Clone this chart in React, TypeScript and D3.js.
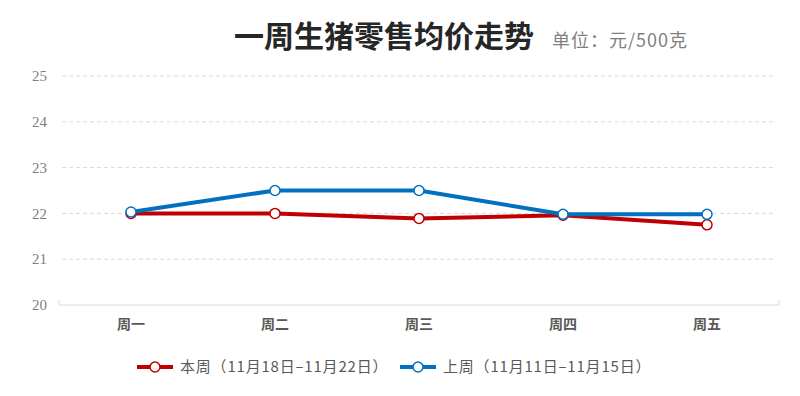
import React from "react";
import * as d3 from "d3";

const days = ["周一", "周二", "周三", "周四", "周五"];
const thisWeek = [22.0, 22.0, 21.89, 21.96, 21.75];
const lastWeek = [22.03, 22.5, 22.5, 21.98, 21.98];
const yTicks = [20, 21, 22, 23, 24, 25];
const seriesNames = ["本周（11月18日–11月22日）", "上周（11月11日–11月15日）"];
const seriesColors = ["#c00000", "#0070c0"];

const W = 800;
const H = 396;

const App: React.FC = () => {
  const svgRef = React.useRef<SVGSVGElement | null>(null);

  React.useEffect(() => {
    if (!svgRef.current) return;
    const svg = d3.select(svgRef.current);
    svg.selectAll("*").remove();

    const margin = { top: 76, right: 21, bottom: 91, left: 59 };
    const innerW = W - margin.left - margin.right;
    const innerH = H - margin.top - margin.bottom;

    svg.append("rect").attr("x", 1.5).attr("y", 1.5).attr("width", W - 3).attr("height", H - 3)
      .attr("fill", "#fff").attr("stroke", "#d9d9d9").attr("stroke-width", 3);

    const x = d3.scaleBand().domain(days).range([0, innerW]);
    const y = d3.scaleLinear().domain([20, 25]).range([innerH, 0]);

    const g = svg.append("g").attr("transform", `translate(${margin.left}, ${margin.top})`);

    // gridlines
    g.selectAll(".grid")
      .data(yTicks.filter((t) => t > 20))
      .enter()
      .append("line")
      .attr("x1", 3)
      .attr("x2", innerW - 3)
      .attr("y1", (d) => y(d))
      .attr("y2", (d) => y(d))
      .attr("stroke", "#d9d9d9")
      .attr("stroke-dasharray", "4,3");

    // y labels
    g.selectAll(".ylab")
      .data(yTicks)
      .enter()
      .append("text")
      .attr("x", -12)
      .attr("y", (d) => y(d))
      .attr("dy", "0.35em")
      .attr("text-anchor", "end")
      .attr("font-family", "Liberation Serif, serif")
      .attr("font-size", 15)
      .attr("fill", "#7f7f7f")
      .text((d) => d);

    // x axis
    const xAxis = g.append("g").attr("transform", `translate(0, ${innerH})`)
      .call(d3.axisBottom(x).tickSize(0).tickPadding(14));
    xAxis.select(".domain").attr("stroke", "#d9d9d9").attr("d", `M0,-5V0H${innerW}V-5`);
    xAxis.selectAll("text")
      .attr("font-family", "Noto Sans CJK SC, sans-serif")
      .attr("font-size", 14)
      .attr("font-weight", "bold")
      .attr("fill", "#595959");

    const cx = (d: string) => (x(d) ?? 0) + x.bandwidth() / 2;
    const line = d3.line<number>().x((_, i) => cx(days[i])).y((d) => y(d));

    [thisWeek, lastWeek].forEach((vals, k) => {
      g.append("path")
        .datum(vals)
        .attr("d", line)
        .attr("fill", "none")
        .attr("stroke", seriesColors[k])
        .attr("stroke-width", 4)
        .attr("stroke-linejoin", "round");
      g.selectAll(`.pt${k}`)
        .data(vals)
        .enter()
        .append("circle")
        .attr("cx", (_, i) => cx(days[i]))
        .attr("cy", (d) => y(d))
        .attr("r", 5)
        .attr("fill", "#fff")
        .attr("stroke", seriesColors[k])
        .attr("stroke-width", 1.5);
    });

    // title
    const title = svg.append("text").attr("x", 234).attr("y", 47);
    title.append("tspan")
      .attr("font-family", "Noto Sans CJK SC, sans-serif")
      .attr("font-size", 30)
      .attr("font-weight", "bold")
      .attr("fill", "#262626")
      .text("一周生猪零售均价走势");
    title.append("tspan")
      .attr("dx", 18)
      .attr("font-family", "Noto Sans CJK SC, sans-serif")
      .attr("font-size", 18)
      .attr("letter-spacing", 1)
      .attr("fill", "#7f7f7f")
      .text("单位：元/500克");

    // legend
    const legendX = [137, 400];
    seriesNames.forEach((name, k) => {
      const lg = svg.append("g").attr("transform", `translate(${legendX[k]}, 367)`);
      lg.append("line").attr("x1", 0).attr("x2", 36).attr("stroke", seriesColors[k]).attr("stroke-width", 4);
      lg.append("circle").attr("cx", 18).attr("r", 5).attr("fill", "#fff")
        .attr("stroke", seriesColors[k]).attr("stroke-width", 1.5);
      lg.append("text")
        .attr("x", 43)
        .attr("dy", "0.35em")
        .attr("font-family", "Noto Sans CJK SC, sans-serif")
        .attr("font-size", 15)
        .attr("letter-spacing", 0.8)
        .attr("fill", "#595959")
        .text(name);
    });
  }, []);

  return <svg ref={svgRef} width={W} height={H} style={{ display: "block", margin: "-8px" }}></svg>;
};

export default App;
